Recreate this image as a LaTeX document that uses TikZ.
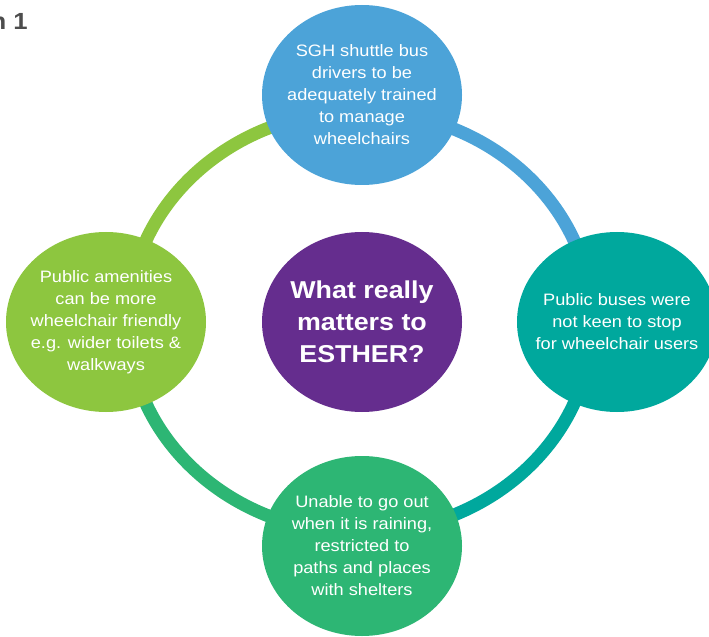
\documentclass[tikz,border=0pt]{standalone}
\usepackage{fontspec}
\setmainfont{Liberation Sans}[FakeStretch=1.1]
\usetikzlibrary{shapes.geometric}

\definecolor{lime}{HTML}{8DC63F}
\definecolor{sky}{HTML}{4CA3D8}
\definecolor{sea}{HTML}{00A89D}
\definecolor{leaf}{HTML}{2DB674}
\definecolor{plum}{HTML}{652D8E}
\definecolor{figgray}{HTML}{4D4D4D}

\tikzset{
  bubble/.style={ellipse, fill=#1, minimum width=150pt, minimum height=135pt,
    inner sep=-10pt, text=white, align=center,
    font=\fontsize{12.4}{16.5}\selectfont},
}

\begin{document}
\begin{tikzpicture}[x=0.75pt,y=0.75pt]
\useasboundingbox (0,0) rectangle (709,636);

% Ring, one quarter per colour
\foreach \col/\a in {lime/180,sky/90,sea/0,leaf/-90}
  \draw[\col, line width=9.75pt] (360,314) ++(\a:174pt and 158.25pt)
    arc[start angle=\a, end angle=\a-90, x radius=174pt, y radius=158.25pt];

% Bubbles
\node[bubble=sky] (shuttle) at (362,541) {SGH shuttle bus\\drivers to be\\adequately trained\\to manage\\wheelchairs};
\node[bubble=lime] (amenity) at (106,314) {Public amenities\\can be more\\wheelchair friendly\\e.g. wider toilets \&\\walkways};
\node[bubble=sea] (buses) at (617,314) {Public buses were\\not keen to stop\\for wheelchair users};
\node[bubble=leaf] (rain) at (362,90) {Unable to go out\\when it is raining,\\restricted to\\paths and places\\with shelters};
\node[bubble=plum, font=\bfseries\fontsize{18.3}{24}\selectfont] (esther) at (362,314) {What really\\matters to\\ESTHER?};

% Caption
\node[anchor=base east, inner sep=0pt, text=figgray, font=\bfseries\fontsize{17.5}{20}\selectfont] (fig) at (28,606) {n 1};
\end{tikzpicture}
\end{document}
